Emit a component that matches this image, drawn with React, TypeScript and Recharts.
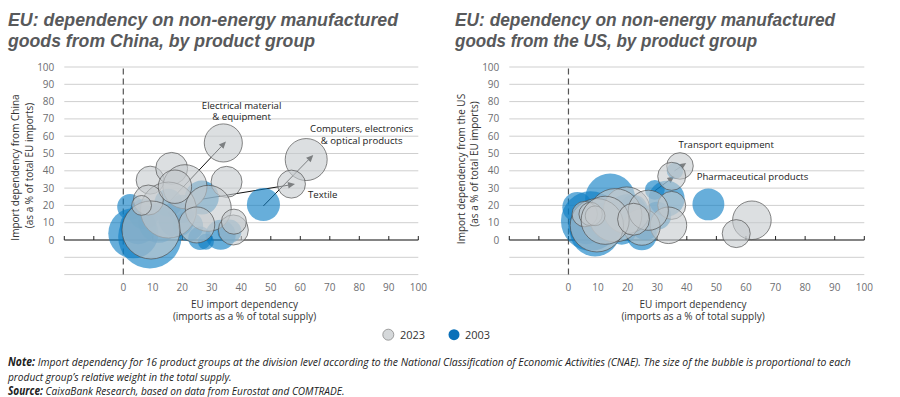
import React, { useLayoutEffect, useRef, useState } from 'react';
import { ScatterChart, Scatter, XAxis, YAxis, ZAxis, CartesianGrid, ReferenceLine } from 'recharts';

const xTicks = [-20, -10, 0, 10, 20, 30, 40, 50, 60, 70, 80, 90, 100];
const yTicks = [-20, -10, 0, 10, 20, 30, 40, 50, 60, 70, 80, 90, 100];
const seriesNames = ['2023', '2003'];

// x: EU import dependency, y: dependency on partner, z: relative weight in total supply
const china2023 = [
  { x: 33.9, y: 56.1, z: 7.4 },
  { x: 62.0, y: 46.5, z: 9.0 },
  { x: 57.0, y: 32.3, z: 4.0 },
  { x: 35.0, y: 33.6, z: 4.9 },
  { x: 9.1, y: 34.6, z: 4.0 },
  { x: 16.4, y: 41.4, z: 5.2 },
  { x: 20.9, y: 30.8, z: 9.9 },
  { x: 15.3, y: 17.3, z: 16.0 },
  { x: 8.5, y: 23.1, z: 4.6 },
  { x: 28.8, y: 18.3, z: 10.8 },
  { x: 24.9, y: 8.7, z: 6.6 },
  { x: 37.3, y: 5.8, z: 4.6 },
  { x: 37.5, y: 10.6, z: 3.2 },
  { x: 9.4, y: 5.8, z: 17.2 },
  { x: 17.5, y: 30.8, z: 5.7 },
  { x: 6.2, y: 20.0, z: 2.0 },
];
const china2003 = [
  { x: 15.3, y: 21.6, z: 4.0 },
  { x: 47.5, y: 20.5, z: 5.6 },
  { x: 26.6, y: 24.5, z: 5.9 },
  { x: 9.0, y: 1.9, z: 20.5 },
  { x: 3.4, y: 3.9, z: 12.8 },
  { x: 2.3, y: 19.2, z: 3.4 },
  { x: 26.0, y: 1.0, z: 2.8 },
  { x: 33.0, y: 3.0, z: 4.6 },
  { x: 28.0, y: -1.0, z: 1.3 },
  { x: 36.0, y: 5.0, z: 2.9 },
  { x: 12.0, y: 10.0, z: 8.2 },
  { x: 18.0, y: 12.0, z: 6.6 },
  { x: 7.0, y: 15.0, z: 4.6 },
  { x: 22.0, y: 8.0, z: 4.6 },
  { x: 20.0, y: 18.0, z: 4.0 },
  { x: 5.0, y: 8.0, z: 6.6 },
];
const us2023 = [
  { x: 37.7, y: 42.8, z: 3.6 },
  { x: 34.9, y: 36.8, z: 4.0 },
  { x: 34.9, y: 20.0, z: 4.0 },
  { x: 33.8, y: 8.5, z: 6.8 },
  { x: 62.0, y: 11.4, z: 7.6 },
  { x: 56.7, y: 3.7, z: 4.0 },
  { x: 24.8, y: 7.5, z: 6.8 },
  { x: 19.7, y: 17.2, z: 11.1 },
  { x: 15.8, y: 14.3, z: 14.5 },
  { x: 9.6, y: 8.5, z: 14.5 },
  { x: 5.5, y: 15.0, z: 3.3 },
  { x: 7.5, y: 15.0, z: 2.8 },
  { x: 9.0, y: 14.0, z: 2.0 },
  { x: 27.0, y: 17.2, z: 8.2 },
  { x: 12.4, y: 11.4, z: 11.8 },
  { x: 22.0, y: 12.0, z: 5.2 },
];
const us2003 = [
  { x: 36.0, y: 40.0, z: 1.4 },
  { x: 29.2, y: 29.0, z: 2.0 },
  { x: 47.3, y: 20.6, z: 5.2 },
  { x: 33.2, y: 23.9, z: 6.6 },
  { x: 24.8, y: 2.7, z: 4.6 },
  { x: 7.5, y: 11.0, z: 18.0 },
  { x: 14.1, y: 23.9, z: 12.8 },
  { x: 9.0, y: 5.0, z: 12.8 },
  { x: 20.0, y: 15.0, z: 8.2 },
  { x: 26.0, y: 8.0, z: 4.0 },
  { x: 3.0, y: 19.0, z: 4.6 },
  { x: 12.0, y: 10.0, z: 8.2 },
  { x: 30.0, y: 14.0, z: 4.0 },
  { x: 18.0, y: 6.0, z: 4.6 },
  { x: 6.0, y: 8.0, z: 6.6 },
  { x: 22.0, y: 18.0, z: 4.0 },
];

const chinaArrows = [
  { from: { x: 15.3, y: 21.6 }, to: { x: 34.8, y: 56.9 } },
  { from: { x: 26.6, y: 23.6 }, to: { x: 58.2, y: 32.3 } },
  { from: { x: 47.5, y: 19.7 }, to: { x: 64.4, y: 49.2 } },
];
const usArrows = [
  { from: { x: 35.8, y: 39.9 }, to: { x: 39.8, y: 44.5 } },
  { from: { x: 29.1, y: 28.3 }, to: { x: 35.8, y: 36.8 } },
];

const chinaLabels = [
  { x: 40.1, y: 74.6, lines: ['Electrical material', '& equipment'] },
  { x: 80.8, y: 60.8, lines: ['Computers, electronics', '& optical products'] },
  { x: 67.6, y: 26.4, lines: ['Textile'] },
];
const usLabels = [
  { x: 53.3, y: 55.1, lines: ['Transport equipment'] },
  { x: 62.2, y: 36.8, lines: ['Pharmaceutical products'] },
];

const FONT = "'Open Sans', 'Noto Sans', sans-serif";
const TITLE_FONT = "'Liberation Sans', Arial, sans-serif";

const fmt = (v: number) => (v < 0 ? '' : String(v));

const ArrowShape = (p: any) => {
  const { x1, y1, x2, y2 } = p;
  const dx = x2 - x1;
  const dy = y2 - y1;
  const len = Math.hypot(dx, dy) || 1;
  const ux = dx / len;
  const uy = dy / len;
  const hl = 7;
  const hw = 3.2;
  const bx = x2 - ux * hl;
  const by = y2 - uy * hl;
  const pts = `${x2},${y2} ${bx - uy * hw},${by + ux * hw} ${bx + uy * hw},${by - ux * hw}`;
  return (
    <g>
      <line x1={x1} y1={y1} x2={bx} y2={by} stroke="#111" strokeWidth={1} />
      <polygon points={pts} fill="#111" />
    </g>
  );
};

const LabelShape = (p: any) => {
  const { cx, cy, payload } = p;
  const lines: string[] = (payload && payload.lines) || [];
  const lh = 11.4;
  const y0 = cy - ((lines.length - 1) * lh) / 2;
  return (
    <g>
      {lines.map((l, i) => (
        <text
          key={i}
          x={cx}
          y={y0 + i * lh}
          dy="0.35em"
          textAnchor="middle"
          fontSize={9.6}
          fill="#222"
          fontFamily={FONT}
        >
          {l}
        </text>
      ))}
    </g>
  );
};

const TickMark = (p: any) => {
  const { x1, y1, x2, y2 } = p;
  return <line x1={x1} y1={y1} x2={x2} y2={y2} stroke="#222" strokeWidth={1} />;
};

// Text squeezed horizontally to a target width (emulates the condensed original font)
const FitText = ({ x, y, width, children, ...rest }: any) => {
  const ref = useRef<SVGTextElement>(null);
  const [sx, setSx] = useState(1);
  useLayoutEffect(() => {
    const el = ref.current;
    if (!el) return;
    const len = el.getComputedTextLength();
    if (len > 0) setSx(width / len);
  }, [width]);
  return (
    <text ref={ref} transform={`translate(${x},${y}) scale(${sx},1)`} {...rest}>
      {children}
    </text>
  );
};

type PanelProps = {
  d2003: { x: number; y: number; z: number }[];
  d2023: { x: number; y: number; z: number }[];
  arrows: { from: { x: number; y: number }; to: { x: number; y: number } }[];
  labels: { x: number; y: number; lines: string[] }[];
  yAxisWidth: number;
  rightMargin: number;
};

const Panel = ({ d2003, d2023, arrows, labels, yAxisWidth, rightMargin }: PanelProps) => (
  <ScatterChart
    width={450}
    height={330}
    margin={{ top: 67, right: rightMargin, bottom: 25.4, left: 0 }}
  >
    <CartesianGrid vertical={false} stroke="#cfcfcf" strokeWidth={1} />
    <XAxis
      type="number"
      dataKey="x"
      domain={[-20, 100]}
      ticks={xTicks}
      interval={0}
      tickFormatter={fmt}
      axisLine={false}
      tickLine={false}
      tickSize={0}
      tickMargin={9}
      height={30}
      allowDataOverflow
      tick={{ fill: '#6d6e71', fontSize: 10, fontFamily: FONT }}
    />
    <YAxis
      type="number"
      dataKey="y"
      domain={[-20, 100]}
      ticks={yTicks}
      interval={0}
      tickFormatter={fmt}
      axisLine={false}
      tickLine={false}
      tickSize={0}
      tickMargin={10}
      width={yAxisWidth}
      allowDataOverflow
      tick={{ fill: '#6d6e71', fontSize: 10, fontFamily: FONT }}
    />
    <ZAxis type="number" dataKey="z" domain={[0, 25]} range={[0, 3848]} />
    <Scatter
      name={seriesNames[1]}
      data={d2003}
      fill="#0a7cc4"
      fillOpacity={0.62}
      isAnimationActive={false}
    />
    <Scatter
      name={seriesNames[0]}
      data={d2023}
      fill="#c5cacd"
      fillOpacity={0.6}
      stroke="#4d4d4d"
      strokeWidth={0.8}
      strokeOpacity={0.85}
      isAnimationActive={false}
    />
    <ReferenceLine x={0} stroke="#555" strokeWidth={1.2} strokeDasharray="6 4" />
    <ReferenceLine y={0} stroke="#222" strokeWidth={1.2} />
    {xTicks.map((t) => (
      <ReferenceLine
        key={'t' + t}
        segment={[
          { x: t, y: 0 },
          { x: t, y: 2.3 },
        ]}
        shape={TickMark}
      />
    ))}
    {arrows.map((a, i) => (
      <ReferenceLine key={'a' + i} segment={[a.from, a.to]} shape={ArrowShape} />
    ))}
    <Scatter data={labels} shape={LabelShape} isAnimationActive={false} legendType="none" />
  </ScatterChart>
);

const titleStyle = {
  fontFamily: TITLE_FONT,
  fontWeight: 700,
  fontStyle: 'italic' as const,
  fontSize: 18.3,
  fill: '#58595b',
};

export default function App() {
  return (
    <div style={{ position: 'absolute', left: 0, top: 0, width: 900, height: 397, background: '#fff', overflow: 'hidden' }}>
      <div style={{ position: 'absolute', left: 0, top: 0 }}>
        <Panel
          d2003={china2003}
          d2023={china2023}
          arrows={chinaArrows}
          labels={chinaLabels}
          yAxisWidth={64.3}
          rightMargin={31.7}
        />
      </div>
      <div style={{ position: 'absolute', left: 450, top: 0 }}>
        <Panel
          d2003={us2003}
          d2023={us2023}
          arrows={usArrows}
          labels={usLabels}
          yAxisWidth={59.3}
          rightMargin={35.7}
        />
      </div>
      <svg width={900} height={397} style={{ position: 'absolute', left: 0, top: 0, pointerEvents: 'none' }}>
        <FitText x={8} y={26} width={390} {...titleStyle}>
          EU: dependency on non-energy manufactured
        </FitText>
        <FitText x={8} y={47} width={307} {...titleStyle}>
          goods from China, by product group
        </FitText>
        <FitText x={455} y={26} width={380} {...titleStyle}>
          EU: dependency on non-energy manufactured
        </FitText>
        <FitText x={455} y={47} width={302} {...titleStyle}>
          goods from the US, by product group
        </FitText>

        <g fontFamily={FONT} fontSize={10} fill="#333" textAnchor="middle">
          <text x={244.5} y={307.8}>EU import dependency</text>
          <text x={244.5} y={320.3}>(imports as a % of total supply)</text>
          <text x={693} y={307.8}>EU import dependency</text>
          <text x={693} y={320.3}>(imports as a % of total supply)</text>
          <text transform="translate(15.5,167.5) rotate(-90)" dy="0.35em">Import dependency from China</text>
          <text transform="translate(29,165.5) rotate(-90)" dy="0.35em">(as a % of total EU imports)</text>
          <text transform="translate(461.7,169) rotate(-90)" dy="0.35em">Import dependency from the US</text>
          <text transform="translate(474,164) rotate(-90)" dy="0.35em">(as a % of total EU imports)</text>
        </g>

        <circle cx={388.3} cy={334.7} r={5.5} fill="#d5d8da" stroke="#888" strokeWidth={0.8} />
        <text x={400} y={338.6} fontFamily={FONT} fontSize={11} fill="#333">{seriesNames[0]}</text>
        <circle cx={454} cy={334.7} r={5.5} fill="#0a70b9" />
        <text x={465} y={338.6} fontFamily={FONT} fontSize={11} fill="#333">{seriesNames[1]}</text>

        <g fontFamily={FONT} fontSize={11.5} fontStyle="italic" fill="#222">
          <FitText x={8} y={365.5} width={843}>
            <tspan fontWeight={700}>Note:</tspan>
            {' Import dependency for 16 product groups at the division level according to the National Classification of Economic Activities (CNAE). The size of the bubble is proportional to each'}
          </FitText>
          <FitText x={8} y={380.5} width={224}>
            product group’s relative weight in the total supply.
          </FitText>
          <FitText x={8} y={395} width={337}>
            <tspan fontWeight={700}>Source:</tspan>
            {' CaixaBank Research, based on data from Eurostat and COMTRADE.'}
          </FitText>
        </g>
      </svg>
    </div>
  );
}
